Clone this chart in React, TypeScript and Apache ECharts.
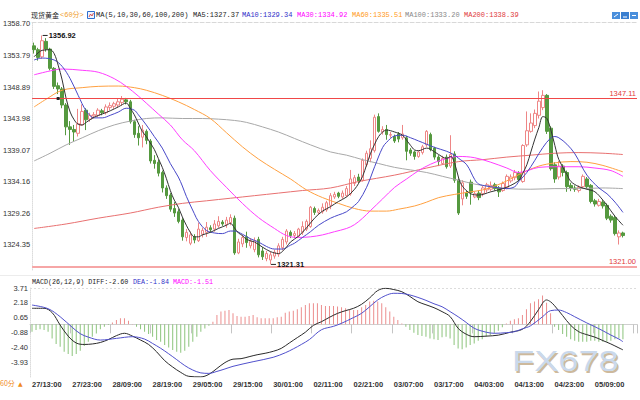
import React, { useEffect, useRef } from 'react';
import * as echarts from 'echarts';

// ---------- data ----------
const tickLabels = ['27/13:00','27/23:00','28/09:00','28/19:00','29/05:00','29/15:00','30/01:00','02/11:00','02/21:00','03/07:00','03/17:00','04/03:00','04/13:00','04/23:00','05/09:00'];
const priceTicks = [1358.70, 1353.79, 1348.89, 1343.98, 1339.07, 1334.16, 1329.26, 1324.35];
const macdTicks = [3.71, 2.18, 0.65, -0.88, -2.40, -3.93];

// [open, close, low, high]
const candles: number[][] = [
[1355.3,1354.7,1354.1,1355.8],[1354.7,1353.5,1353.0,1355.0],[1353.6,1356.1,1353.3,1356.92],[1356.0,1354.8,1354.4,1356.5],
[1354.8,1351.8,1351.5,1355.0],[1351.8,1349.0,1348.6,1352.0],[1349.1,1348.6,1347.8,1349.6],[1348.6,1346.1,1345.6,1348.9],
[1346.1,1342.7,1341.4,1346.4],[1342.7,1342.3,1339.9,1343.6],[1342.3,1341.9,1340.4,1343.0],[1341.7,1343.2,1341.2,1345.5],
[1343.0,1345.1,1342.9,1346.2],[1345.3,1343.8,1342.2,1345.6],[1343.9,1344.5,1343.5,1344.9],[1344.4,1344.6,1344.0,1345.0],
[1344.5,1345.3,1344.2,1345.6],[1345.2,1344.9,1344.5,1345.5],[1344.9,1345.8,1344.6,1346.2],[1345.7,1346.0,1345.3,1346.5],
[1345.9,1346.3,1345.5,1346.6],[1346.1,1346.6,1345.7,1347.1],[1346.5,1347.0,1346.0,1347.5],[1346.9,1346.6,1346.2,1347.2],
[1346.6,1343.5,1343.2,1346.9],[1343.5,1341.5,1341.0,1343.8],[1341.7,1341.0,1339.8,1342.8],[1341.1,1342.2,1339.5,1343.0],
[1342.0,1340.6,1340.0,1342.3],[1340.5,1337.4,1337.0,1340.8],[1337.5,1337.0,1336.2,1338.3],[1337.2,1335.5,1335.0,1337.6],
[1335.6,1333.2,1332.5,1335.9],[1333.2,1332.0,1331.5,1333.6],[1332.1,1329.9,1329.5,1332.4],[1330.0,1329.3,1328.7,1331.0],
[1329.5,1328.0,1327.7,1329.9],[1328.2,1325.6,1325.0,1328.5],[1325.5,1326.3,1324.9,1326.8],[1324.6,1325.9,1324.3,1326.4],
[1325.6,1325.1,1324.6,1326.0],[1325.0,1326.8,1324.8,1327.8],[1326.0,1326.6,1325.5,1327.0],[1326.3,1327.1,1325.6,1327.9],
[1327.0,1326.7,1326.3,1327.4],[1326.8,1327.6,1326.4,1328.2],[1327.3,1328.0,1327.0,1328.8],[1327.9,1327.6,1327.3,1328.2],
[1327.5,1328.2,1327.0,1328.7],[1327.8,1328.6,1327.4,1329.1],[1328.5,1323.1,1322.8,1328.9],[1323.1,1324.8,1322.9,1325.3],
[1324.5,1325.5,1324.0,1325.9],[1325.6,1324.7,1323.9,1326.4],[1324.2,1324.9,1323.8,1325.4],[1323.6,1325.0,1323.2,1325.5],
[1325.2,1322.8,1322.4,1325.6],[1323.4,1322.5,1322.0,1324.0],[1322.2,1323.0,1321.8,1323.4],[1322.0,1322.8,1321.31,1323.3],
[1322.6,1323.2,1322.2,1323.6],[1322.9,1324.2,1322.5,1324.6],[1323.9,1325.2,1323.5,1325.6],[1324.8,1326.5,1324.4,1326.8],
[1326.3,1325.8,1325.4,1326.6],[1325.8,1326.1,1325.4,1326.5],[1325.7,1326.8,1325.5,1327.0],[1326.3,1327.2,1325.9,1328.0],
[1326.8,1328.0,1326.5,1328.3],[1327.2,1330.2,1327.0,1330.4],[1330.0,1329.4,1329.0,1330.3],[1329.4,1329.7,1329.0,1330.0],
[1329.5,1330.2,1329.2,1330.8],[1329.8,1330.9,1329.5,1331.2],[1330.5,1332.0,1329.9,1332.4],[1331.8,1332.2,1331.5,1332.6],
[1332.4,1331.9,1331.6,1332.6],[1331.8,1332.4,1331.5,1332.8],[1332.0,1333.1,1331.8,1333.5],[1332.3,1334.6,1332.0,1336.0],
[1333.9,1334.8,1333.5,1335.2],[1334.9,1334.3,1333.9,1335.4],[1334.4,1337.5,1334.2,1337.8],[1336.8,1338.6,1336.5,1339.0],
[1337.8,1339.3,1337.2,1340.6],[1339.0,1344.2,1338.7,1344.6],[1344.3,1342.0,1341.8,1344.8],[1341.9,1342.3,1341.5,1342.8],
[1342.3,1341.5,1340.7,1343.0],[1341.4,1341.5,1341.0,1341.9],[1341.2,1340.5,1340.2,1341.5],[1341.6,1340.8,1340.3,1341.9],
[1341.0,1341.6,1340.7,1343.0],[1341.0,1338.9,1337.5,1341.3],[1339.1,1338.6,1338.2,1339.4],[1338.8,1338.1,1337.6,1339.0],
[1338.1,1338.8,1337.9,1339.0],[1338.7,1339.6,1338.4,1339.9],[1339.9,1342.0,1339.6,1342.2],[1341.5,1339.2,1338.9,1341.8],
[1339.4,1338.0,1337.6,1339.6],[1338.0,1337.3,1336.6,1338.3],[1337.0,1337.8,1336.8,1338.2],[1338.0,1336.5,1336.2,1338.4],
[1336.6,1338.4,1336.3,1341.4],[1338.5,1334.4,1334.0,1338.9],[1334.4,1329.3,1329.0,1334.7],[1331.5,1334.0,1330.5,1334.4],
[1332.4,1331.9,1331.5,1332.8],[1334.1,1332.5,1330.6,1334.5],[1331.8,1332.3,1331.6,1332.6],[1332.4,1331.7,1331.3,1332.8],
[1332.3,1333.2,1331.9,1333.5],[1332.9,1333.7,1332.5,1334.0],[1333.0,1333.6,1332.7,1334.2],[1333.7,1333.1,1332.8,1334.0],
[1333.2,1332.6,1331.8,1333.5],[1332.8,1333.9,1332.6,1334.2],[1333.3,1335.0,1333.0,1335.3],[1334.3,1334.9,1334.0,1335.3],
[1334.8,1335.6,1334.4,1336.0],[1335.5,1334.5,1334.2,1335.8],[1334.2,1339.8,1334.0,1340.0],[1339.9,1342.1,1339.6,1345.1],
[1342.0,1343.3,1341.8,1344.8],[1342.9,1344.8,1342.5,1345.4],[1344.5,1346.7,1344.0,1348.2],[1345.7,1347.6,1345.3,1348.4],
[1347.6,1342.0,1341.6,1347.8],[1342.5,1336.2,1335.9,1342.8],[1336.8,1334.6,1334.0,1337.2],[1334.9,1336.6,1334.5,1337.4],
[1336.6,1335.6,1335.0,1336.9],[1335.6,1333.4,1332.6,1335.9],[1333.6,1333.2,1332.7,1334.0],[1333.2,1333.0,1332.6,1333.6],
[1332.8,1333.3,1332.5,1333.6],[1333.4,1335.0,1333.1,1335.3],[1334.6,1333.4,1333.0,1334.9],[1333.6,1331.1,1330.8,1333.8],
[1331.2,1330.7,1330.3,1331.5],[1330.5,1331.1,1330.3,1331.5],[1331.0,1330.4,1330.0,1331.3],[1330.5,1328.5,1328.2,1330.8],
[1328.8,1328.2,1327.8,1329.1],[1328.6,1326.1,1325.8,1328.9],[1325.6,1326.2,1324.4,1326.6],[1326.2,1325.8,1325.5,1326.4],
];

// moving averages: [candle index, value]
const ma5 = [[0,1353.6],[2,1354.6],[4,1354.7],[5,1354.1],[6,1352.3],[7,1350.0],[8,1347.1],[9,1345.0],[10,1343.8],[11,1343.1],[12,1343.0],[13,1343.4],[15,1344.2],[17,1344.7],[19,1345.2],[21,1345.8],[23,1346.4],[24,1345.6],[25,1344.6],[26,1343.3],[27,1342.0],[28,1341.2],[29,1340.2],[30,1339.2],[31,1337.8],[32,1336.4],[33,1334.7],[34,1332.8],[35,1331.3],[36,1330.2],[37,1328.7],[38,1327.4],[39,1326.3],[40,1325.6],[41,1325.6],[42,1325.9],[44,1326.3],[46,1326.9],[48,1327.4],[49,1327.7],[50,1327.0],[51,1326.2],[52,1325.8],[53,1325.2],[55,1324.8],[57,1324.0],[59,1323.3],[61,1323.0],[63,1324.0],[64,1324.8],[66,1325.7],[68,1327.0],[70,1328.5],[72,1329.6],[74,1330.3],[76,1331.1],[78,1331.8],[80,1333.0],[81,1333.9],[82,1335.0],[83,1336.8],[84,1338.6],[85,1340.0],[86,1341.2],[87,1341.9],[88,1342.2],[90,1341.9],[92,1341.4],[93,1340.6],[94,1339.8],[95,1339.1],[96,1339.0],[98,1339.4],[100,1338.8],[102,1338.0],[103,1337.8],[104,1338.1],[105,1337.0],[106,1334.7],[107,1333.4],[109,1332.3],[111,1332.1],[114,1332.6],[117,1333.1],[119,1333.6],[121,1334.4],[122,1335.5],[123,1336.8],[124,1338.8],[125,1340.8],[126,1342.6],[127,1344.3],[128,1344.0],[129,1342.2],[130,1339.8],[131,1337.6],[133,1335.3],[134,1334.2],[136,1333.4],[138,1333.0],[140,1332.6],[142,1331.3],[143,1330.5],[145,1328.8],[147,1327.4]];
const ma10 = [[0,1353.1],[2,1353.4],[5,1353.1],[7,1352.1],[9,1350.2],[11,1347.6],[13,1345.2],[15,1344.1],[17,1344.1],[19,1344.5],[21,1345.0],[23,1345.6],[25,1345.3],[26,1344.6],[28,1343.0],[30,1341.2],[32,1339.4],[34,1337.0],[36,1334.9],[37,1333.5],[38,1331.9],[40,1329.2],[41,1328.0],[43,1326.6],[45,1326.2],[47,1326.1],[49,1326.5],[50,1326.5],[52,1326.0],[54,1325.3],[56,1324.8],[58,1324.1],[60,1323.7],[62,1323.7],[64,1324.3],[65,1324.6],[67,1325.5],[69,1326.4],[71,1327.4],[74,1328.5],[76,1329.0],[78,1329.5],[80,1330.5],[81,1331.1],[83,1333.3],[85,1336.5],[87,1339.5],[88,1340.3],[90,1341.3],[92,1341.4],[94,1341.0],[96,1340.5],[98,1340.0],[100,1339.5],[103,1338.9],[105,1338.3],[106,1337.8],[108,1336.8],[110,1334.5],[111,1333.8],[113,1333.5],[115,1333.3],[118,1333.1],[120,1333.4],[121,1334.2],[123,1335.6],[125,1337.5],[127,1339.5],[129,1341.0],[130,1341.2],[131,1341.0],[133,1340.0],[135,1338.5],[138,1335.2],[141,1333.2],[143,1332.3],[145,1331.0],[147,1329.4]];
const ma30 = [[0,1350.8],[4,1351.4],[7,1351.7],[12,1351.5],[16,1351.2],[20,1350.2],[23,1349.0],[26,1347.5],[28,1346.4],[31,1344.7],[34,1343.0],[37,1340.7],[40,1339.0],[44,1335.9],[48,1333.3],[52,1330.8],[56,1328.6],[60,1326.9],[63,1325.8],[66,1325.5],[69,1325.6],[72,1325.9],[75,1326.4],[78,1326.9],[80,1327.5],[82,1328.5],[84,1329.7],[87,1331.5],[90,1333.3],[93,1334.6],[96,1335.9],[99,1336.9],[102,1337.6],[106,1338.1],[110,1337.9],[114,1337.2],[118,1336.3],[121,1335.6],[126,1336.4],[130,1336.5],[136,1336.5],[140,1336.3],[144,1335.9],[147,1335.0]];
const ma60 = [[0,1345.8],[3,1347.0],[7,1348.4],[12,1348.8],[16,1349.0],[21,1349.05],[25,1348.8],[28,1348.4],[32,1347.6],[36,1346.6],[40,1345.4],[44,1344.0],[48,1341.8],[52,1339.6],[56,1337.7],[60,1336.1],[64,1334.6],[68,1332.9],[72,1331.7],[76,1330.8],[80,1330.0],[84,1329.6],[88,1329.6],[91,1329.9],[95,1330.4],[98,1331.0],[101,1331.7],[105,1332.2],[109,1332.6],[112,1332.9],[115,1333.5],[118,1334.3],[122,1335.6],[126,1336.6],[130,1337.1],[134,1337.3],[138,1337.2],[142,1336.7],[147,1335.7]];
const ma100 = [[0,1337.4],[4,1338.6],[8,1339.9],[12,1341.0],[16,1342.1],[20,1343.0],[24,1343.6],[28,1344.0],[32,1344.1],[37,1344.0],[42,1344.0],[46,1343.9],[50,1343.7],[53,1343.4],[57,1342.7],[61,1341.9],[65,1340.9],[69,1339.9],[74,1338.8],[78,1338.3],[82,1337.6],[86,1337.0],[90,1336.4],[94,1336.0],[98,1335.6],[102,1335.0],[106,1334.4],[110,1333.8],[114,1333.4],[118,1333.1],[124,1333.0],[130,1333.1],[136,1333.1],[142,1333.2],[147,1333.1]];
const ma200 = [[0,1326.9],[8,1327.6],[16,1328.5],[24,1329.3],[31,1330.2],[37,1330.8],[43,1331.2],[49,1331.6],[55,1332.0],[61,1332.4],[67,1332.8],[74,1333.2],[81,1334.2],[90,1335.2],[98,1336.3],[106,1337.3],[112,1337.6],[118,1338.0],[124,1338.3],[130,1338.6],[136,1338.7],[142,1338.6],[147,1338.4]];

// MACD
const macdHist = [-0.75,-0.58,-0.51,-0.58,-0.75,-1.43,-2.0,-2.28,-2.79,-3.02,-3.23,-3.02,-2.68,-2.21,-1.77,-1.26,-0.92,-0.51,-0.24,-0.07,
0.2,0.44,0.62,0.62,0.38,0.04,-0.24,-0.51,-0.75,-0.98,-1.26,-1.6,-1.77,-2.11,-2.35,-2.62,-2.79,-2.89,-2.68,-2.28,
-1.77,-1.26,-0.75,-0.41,-0.14,0.27,0.95,1.3,1.4,1.47,1.13,0.85,0.78,0.78,0.85,0.95,0.72,0.62,0.62,0.62,
0.62,0.72,0.78,1.19,1.3,1.4,1.53,1.74,1.98,2.15,2.15,2.15,1.98,1.87,1.87,1.87,1.81,1.74,1.64,1.53,
1.47,1.47,1.74,1.98,2.32,2.42,2.32,2.15,1.74,1.3,0.78,0.44,0.1,-0.24,-0.58,-0.85,-1.09,-1.19,-1.26,-1.43,
-1.53,-1.6,-1.32,-1.26,-1.43,-2.11,-2.45,-2.55,-2.35,-2.11,-1.94,-1.66,-1.53,-1.26,-1.09,-0.92,-0.64,-0.3,0.1,0.38,
0.51,0.62,0.95,1.53,2.15,2.32,2.55,2.95,2.2,1.13,-0.24,-0.58,-0.99,-1.26,-1.53,-1.66,-1.77,-1.77,-1.77,-1.66,
-1.66,-1.77,-1.77,-1.77,-1.66,-1.53,-1.43,-1.51];
const diff = [[0,1.64],[3,1.64],[5,1.2],[7,-0.07],[9,-1.2],[11,-1.9],[13,-2.05],[15,-2.0],[17,-1.85],[19,-1.55],[21,-1.15],[23,-0.91],[25,-1.2],[27,-1.6],[29,-2.05],[31,-2.8],[33,-3.7],[35,-4.35],[37,-4.9],[39,-5.3],[42,-5.36],[44,-5.1],[46,-4.5],[48,-3.9],[50,-3.55],[52,-3.5],[54,-3.3],[56,-3.1],[58,-2.95],[60,-2.75],[62,-2.45],[64,-1.9],[66,-1.35],[68,-0.8],[70,-0.1],[72,0.27],[74,0.72],[76,1.12],[78,1.4],[80,1.64],[82,2.05],[84,2.7],[86,3.45],[88,3.68],[90,3.55],[92,3.33],[94,2.85],[96,2.31],[98,2.0],[100,1.7],[102,1.3],[104,0.8],[106,-0.4],[108,-1.0],[110,-1.26],[113,-1.2],[116,-1.1],[119,-0.8],[122,-0.5],[124,0.3],[126,1.5],[128,2.49],[129,2.3],[130,1.9],[132,0.9],[134,-0.1],[136,-0.75],[138,-1.05],[140,-1.3],[142,-1.65],[144,-2.0],[146,-2.4],[147,-2.6]];
const dea = [[0,1.97],[4,1.6],[7,0.78],[10,-0.3],[12,-0.95],[14,-1.3],[17,-1.6],[21,-1.43],[25,-1.26],[28,-1.5],[30,-1.95],[32,-2.44],[34,-3.0],[36,-3.6],[38,-4.2],[40,-4.66],[42,-4.95],[44,-5.0],[46,-4.8],[48,-4.55],[50,-4.28],[55,-3.81],[60,-3.36],[63,-2.9],[65,-2.5],[67,-2.05],[69,-1.55],[72,-0.55],[75,-0.2],[77,0.11],[80,0.7],[82,1.13],[84,1.8],[86,2.49],[88,2.95],[90,3.17],[92,3.15],[94,3.0],[96,2.75],[98,2.45],[100,2.1],[102,1.8],[104,1.3],[106,0.78],[108,0.2],[110,-0.4],[113,-0.8],[115,-0.91],[118,-0.85],[120,-0.75],[122,-0.45],[124,-0.15],[127,0.78],[129,1.4],[131,1.46],[133,1.2],[135,0.78],[138,0.15],[140,-0.24],[142,-0.65],[144,-1.09],[146,-1.5],[147,-1.77]];

const highMark = [2, 1356.92];
const lowMark = [59, 1321.31];
const refHigh = 1347.11;
const refLow = 1321.00;
const legendMA = ['MA5:1327.37', 'MA10:1329.34', 'MA30:1334.92', 'MA60:1335.51', 'MA100:1333.20', 'MA200:1338.39'];
const legendMACD = ['MACD(26,12,9) DIFF:-2.60', 'DEA:-1.84', 'MACD:-1.51'];

// ---------- styling ----------
const C = { ma5: '#333333', ma10: '#4848c8', ma30: '#ff3cff', ma60: '#ffa040', ma100: '#a8a8a8', ma200: '#e87070' };
const MONO = '"Liberation Mono","DejaVu Sans Mono","Noto Sans CJK SC",monospace';
const SANS = 'Arial,"Liberation Sans",sans-serif';

function lineSeries(name: string, data: number[][], color: string, xi = 0) {
  return {
    name, type: 'line', xAxisIndex: xi, yAxisIndex: xi, data, smooth: 0.35, symbol: 'none',
    lineStyle: { color, width: 1 }, silent: true, z: 3,
  };
}

function txt(x: number, y: number, text: string, fill: string, font: string) {
  return { type: 'text', x, y, silent: true, style: { text, fill, font, verticalAlign: 'middle' } };
}

export default function App() {
  const ref = useRef<HTMLDivElement>(null);
  useEffect(() => {
    const chart = echarts.init(ref.current!, null, { renderer: 'svg' });
    const cats = candles.map((_, i) => String(i));
    const legX = [193, 242, 297, 352, 405, 464];
    const legC = ['#222', '#3030c8', '#ff00ff', '#ff9a20', '#888', '#e03a3a'];
    const option: any = {
      animation: false,
      backgroundColor: '#fff',
      grid: [
        { left: 30, right: 3, top: 22, height: 248 },
        { left: 30, right: 3, top: 288, height: 89 },
      ],
      xAxis: [
        { type: 'category', gridIndex: 0, data: cats, max: 150, position: 'top',
          axisLine: { show: true, lineStyle: { color: '#d8d8d8', type: 'dashed' } },
          axisTick: { show: false }, axisLabel: { show: false }, splitLine: { show: false } },
        { type: 'category', gridIndex: 1, data: cats, max: 150,
          axisLine: { show: true, lineStyle: { color: '#cfcfcf' } },
          axisTick: { show: true, interval: 9, length: 9, lineStyle: { color: '#c4c4c4' } },
          axisLabel: { interval: 9, align: 'left', margin: 3, fontSize: 7.5, fontWeight: 'bold', color: '#333', fontFamily: SANS,
            formatter: (_v: any, idx: number) => (idx % 10 === 0 && tickLabels[idx / 10]) || '' },
          splitLine: { show: false } },
      ],
      yAxis: [
        { type: 'value', gridIndex: 0, min: 1320.44, max: 1359.01,
          axisLine: { show: true, lineStyle: { color: '#dcdcdc', type: 'dotted' } },
          axisTick: { show: false }, splitLine: { show: false },
          axisLabel: { customValues: priceTicks, formatter: (v: number) => v.toFixed(2), fontSize: 7.5, color: '#333', margin: 2, fontFamily: SANS } },
        { type: 'value', gridIndex: 1, min: -5.37, max: 3.71,
          axisLine: { show: true, lineStyle: { color: '#dcdcdc', type: 'dotted' } },
          axisTick: { show: false }, splitLine: { show: false },
          axisLabel: { customValues: macdTicks, formatter: (v: number) => v.toFixed(2), fontSize: 7.5, color: '#333', margin: 2, fontFamily: SANS } },
      ],
      series: [
        { type: 'candlestick', xAxisIndex: 0, yAxisIndex: 0, data: candles, barWidth: 3, z: 2,
          itemStyle: { color: '#ffffff', color0: '#55993f', borderColor: '#ee8686', borderColor0: '#55993f', borderWidth: 1 },
          markLine: { silent: true, symbol: ['none', 'none'],
            label: { position: 'insideEndTop', color: '#e23a3a', fontSize: 7.5, distance: 1, fontFamily: SANS },
            data: [
              { yAxis: refHigh, lineStyle: { color: '#f04848', width: 1, type: 'solid' }, label: { formatter: refHigh.toFixed(2) } },
              { yAxis: refLow, lineStyle: { color: '#f6a6a6', width: 2, type: 'solid' }, label: { formatter: refLow.toFixed(2) } },
            ] },
          markPoint: { silent: true,
            data: [
              { coord: highMark, symbol: 'rect', symbolSize: [5, 1], symbolOffset: [3, 0], itemStyle: { color: '#222' },
                label: { show: true, position: 'right', distance: 1, formatter: highMark[1].toFixed(2), color: '#111', fontSize: 7.5, fontWeight: 'bold', fontFamily: SANS } },
              { coord: lowMark, symbol: 'rect', symbolSize: [5, 1], symbolOffset: [3, 0], itemStyle: { color: '#222' },
                label: { show: true, position: 'right', distance: 1, formatter: lowMark[1].toFixed(2), color: '#111', fontSize: 7.5, fontWeight: 'bold', fontFamily: SANS } },
              { coord: [6, refHigh], symbol: 'rect', symbolSize: [3, 3], itemStyle: { color: '#222' }, label: { show: false } },
            ] } },
        lineSeries('MA200', ma200, C.ma200),
        lineSeries('MA100', ma100, C.ma100),
        lineSeries('MA60', ma60, C.ma60),
        lineSeries('MA30', ma30, C.ma30),
        lineSeries('MA10', ma10, C.ma10),
        lineSeries('MA5', ma5, C.ma5),
        { type: 'bar', xAxisIndex: 1, yAxisIndex: 1, data: macdHist, barWidth: 1, silent: true,
          itemStyle: { color: (p: any) => (p.value >= 0 ? '#ec8e8e' : '#8cc47c') } },
        lineSeries('DIFF', diff, '#2a2a2a', 1),
        lineSeries('DEA', dea, '#5050cc', 1),
      ],
      graphic: [
        { type: 'line', silent: true, shape: { x1: 30, y1: 288.5, x2: 637, y2: 288.5 }, style: { stroke: '#dcdcdc', lineDash: [2, 2], lineWidth: 1 } },
        { type: 'line', silent: true, shape: { x1: 0, y1: 275.5, x2: 640, y2: 275.5 }, style: { stroke: '#ececec', lineWidth: 1 } },
        txt(31, 15, '现货黄金', '#222', '7px "Noto Sans CJK SC",sans-serif'),
        txt(60, 15, '<60分>', '#f0a030', '7px ' + MONO),
        { type: 'rect', silent: true, shape: { x: 87.5, y: 11.5, width: 7, height: 7 }, style: { fill: '#eef4ff', stroke: '#2f6fcf', lineWidth: 1 } },
        { type: 'polyline', silent: true, shape: { points: [[89, 17], [90.5, 14], [92, 16], [93.5, 13]] }, style: { stroke: '#d03030', fill: 'none', lineWidth: 0.8 } },
        txt(96, 15, 'MA(5,10,30,60,100,200)', '#222', '7px ' + MONO),
        ...legendMA.map((s, k) => txt(legX[k], 15, s, legC[k], '7px ' + MONO)),
        { type: 'rect', silent: true, shape: { x: 612, y: 12, width: 8, height: 7 }, style: { fill: '#4a8fdc' } },
        { type: 'rect', silent: true, shape: { x: 621, y: 12, width: 8, height: 7 }, style: { fill: '#3a7fd0' } },
        { type: 'rect', silent: true, shape: { x: 630, y: 12, width: 8, height: 7 }, style: { fill: '#4a8fdc' } },
        { type: 'line', silent: true, shape: { x1: 614, y1: 17, x2: 618, y2: 14 }, style: { stroke: '#fff', lineWidth: 1 } },
        { type: 'line', silent: true, shape: { x1: 623, y1: 17, x2: 627, y2: 17 }, style: { stroke: '#fff', lineWidth: 1 } },
        { type: 'line', silent: true, shape: { x1: 632, y1: 15.5, x2: 636, y2: 15.5 }, style: { stroke: '#fff', lineWidth: 1 } },
        txt(32, 282, legendMACD[0], '#222', '6.7px ' + MONO),
        txt(133, 282, legendMACD[1], '#3030c8', '6.7px ' + MONO),
        txt(173, 282, legendMACD[2], '#ff00ff', '6.7px ' + MONO),
        txt(0, 383, '60分', '#f08a20', '7px "Noto Sans CJK SC",sans-serif'),
        txt(18, 383, '▲', '#f08a20', '6px "DejaVu Sans",sans-serif'),
        { type: 'text', silent: true, x: 513.5, y: 362.5, scaleX: 1.25, style: { text: 'FX678', fill: '#cdb99c', font: '29px ' + SANS, verticalAlign: 'middle' } },
        { type: 'text', silent: true, x: 512, y: 361, scaleX: 1.25, style: { text: 'FX678', fill: '#cad9ec', font: '29px ' + SANS, verticalAlign: 'middle' } },
      ],
    };
    chart.setOption(option);
    return () => chart.dispose();
  }, []);
  return <div ref={ref} style={{ position: 'absolute', left: 0, top: 0, width: 640, height: 400, background: '#fff' }} />;
}
